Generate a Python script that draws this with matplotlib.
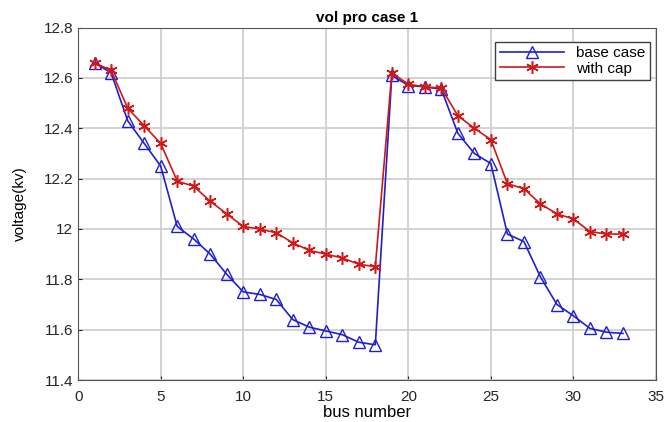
import numpy as np
import matplotlib.pyplot as plt

plt.rcParams['font.family'] = ['Liberation Sans', 'DejaVu Sans']

bus = np.arange(1, 34)
base_case = [12.66, 12.62, 12.43, 12.34, 12.25, 12.01, 11.96, 11.90, 11.82, 11.75,
             11.74, 11.72, 11.64, 11.61, 11.595, 11.58, 11.55, 11.54, 12.61, 12.57,
             12.565, 12.555, 12.38, 12.30, 12.26, 11.98, 11.95, 11.81, 11.70, 11.655,
             11.605, 11.59, 11.585]
with_cap = [12.66, 12.63, 12.48, 12.41, 12.34, 12.19, 12.17, 12.11, 12.06, 12.01,
            12.00, 11.985, 11.945, 11.915, 11.90, 11.885, 11.86, 11.85, 12.62, 12.575,
            12.565, 12.56, 12.45, 12.40, 12.355, 12.18, 12.16, 12.10, 12.06, 12.04,
            11.99, 11.98, 11.98]

fig = plt.figure(figsize=(6.68, 4.22), dpi=100)
ax = fig.add_axes([0.117, 0.0995, 0.865, 0.835])

ax.plot(bus, base_case, color='#1f1fd0', marker='^', markersize=8,
        markerfacecolor='none', markeredgewidth=1.0, linewidth=1.2, label='base case')
ax.plot(bus, with_cap, color='#d01818', marker=(6, 2, 0), markersize=9,
        markeredgewidth=1.1, linewidth=1.2, label='with cap')

ax.set_xlim(0, 35)
ax.set_ylim(11.4, 12.8)
ax.set_xticks(np.arange(0, 36, 5))
ax.set_yticks(np.arange(11.4, 12.81, 0.2))
ax.set_yticklabels(['11.4', '11.6', '11.8', '12', '12.2', '12.4', '12.6', '12.8'])
ax.tick_params(labelsize=11, direction='in', length=3, colors='#262626')
ax.tick_params(axis='x', pad=7)
for s in ax.spines.values():
    s.set_color('#555555')
ax.grid(True, color='#cccccc', linewidth=1.2)
ax.set_axisbelow(True)

ax.set_title('vol pro case 1', fontsize=11, fontweight='bold', pad=4)
ax.set_xlabel('bus number', fontsize=12, labelpad=1)
ax.set_ylabel('voltage(kv)', fontsize=11, labelpad=12)

ax.legend(loc='upper right', bbox_to_anchor=(0.99, 0.96), borderaxespad=0,
          fontsize=11, fancybox=False, edgecolor='#404040',
          framealpha=1, borderpad=0.3, handlelength=4.2, labelspacing=0.1)

plt.savefig('out.png', dpi=100)
